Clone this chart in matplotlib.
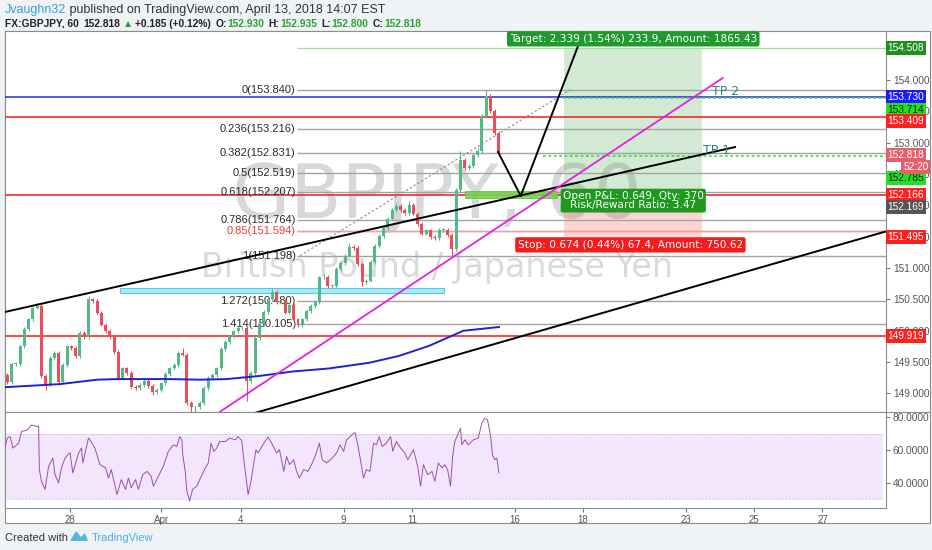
import numpy as np
import matplotlib

matplotlib.use("Agg")
from matplotlib import pyplot as plt
from matplotlib.patches import Rectangle, Polygon
from matplotlib.lines import Line2D

plt.rcParams["font.family"] = ["Liberation Sans", "DejaVu Sans"]

# ---------------- datos ----------------
# eje x en horas de mercado desde el 28 de marzo 00:00 (sin fines de semana)
bar_start = -44
bar_step = 3
first_open = 149.30
closes = [
    149.18, 149.47, 149.47, 149.75, 150.03, 150.18, 150.37, 150.40, 149.28, 149.15,
    149.56, 149.65, 149.19, 149.45, 149.75, 149.72, 149.60, 149.96, 149.90, 150.50,
    150.48, 150.29, 150.10, 150.00, 149.90, 149.66, 149.25, 149.40, 149.33, 149.11,
    149.09, 149.13, 149.20, 149.12, 149.02, 149.05, 149.16, 149.31, 149.40, 149.45,
    149.65, 149.62, 148.85, 148.78, 148.78, 148.85, 149.09, 149.25, 149.30, 149.40,
    149.71, 149.82, 149.91, 149.99, 150.04, 150.05, 149.20, 149.33, 149.88, 150.11,
    150.30, 150.50, 150.62, 150.46, 150.47, 150.29, 150.41, 150.18, 150.09, 150.18,
    150.31, 150.39, 150.46, 150.85, 150.86, 150.72, 150.72, 150.98, 151.08, 151.20,
    151.34, 151.32, 151.06, 150.78, 150.80, 151.10, 151.35, 151.51, 151.64, 151.79,
    151.93, 151.99, 151.93, 151.88, 152.00, 151.87, 151.70, 151.55, 151.60, 151.49,
    151.48, 151.61, 151.61, 151.53, 151.30, 152.25, 152.72, 152.60, 152.63, 152.80,
    152.87, 153.42, 153.74, 153.50, 153.15, 152.818,
]
wick_highs = {7: 150.45, 19: 150.56, 41: 149.72, 55: 150.08, 62: 150.66, 74: 150.90,
              80: 151.40, 91: 152.03, 94: 152.07, 106: 152.86, 110: 152.92, 112: 153.84}
wick_lows = {9: 149.05, 34: 148.98, 43: 148.66, 44: 148.66, 56: 148.88, 83: 150.72,
             104: 151.198}

# media movil (linea azul)
ma_hours = [-46, -7, 19, 33, 70, 91, 110, 133, 156, 182, 210, 231, 252, 276, 301]
ma_values = [149.10, 149.15, 149.22, 149.23, 149.23, 149.22, 149.23, 149.28, 149.35,
             149.40, 149.49, 149.60, 149.76, 150.00, 150.06]

# RSI
rsi_hours = [
    -46, -44, -42, -40, -36, -34, -30, -27, -23, -22,
    -21.5, -20, -17.5, -15, -12, -10.5, -8, -6, -3.5, 0,
    2, 6, 8, 9, 13, 14, 17.5, 21, 25, 27,
    29, 33, 36, 39, 41, 43, 46, 48, 51, 54,
    57, 58.5, 62, 65.5, 69, 72.5, 75, 77, 78.5, 79,
    81, 82, 84, 86, 89, 91, 95, 97, 99, 101,
    103, 105, 109, 112, 116, 118, 120.5, 122, 125, 127,
    129, 130.5, 132, 136, 139, 141.5, 145, 147, 150, 152,
    154, 157, 159, 161, 164, 167, 170, 172, 175, 177,
    180, 184, 187, 189.5, 192, 194, 198, 200, 202, 205,
    206, 208, 210.5, 213, 215, 217, 219, 222, 225, 226.5,
    229, 232, 235, 237, 241, 244, 246, 248, 251, 254,
    256, 258.5, 261, 263, 265, 267, 268.5, 270, 274, 275,
    277, 279.5, 283, 286.5, 289, 291, 293, 295, 296.5, 298,
    299.5, 301,
]
rsi_values = [
    60.2, 67.3, 68.2, 61.2, 64.2, 71.3, 72.3, 75.3, 74.3, 74.7,
    48.1, 41.0, 36.0, 50.1, 55.1, 45.0, 40.0, 49.1, 55.1, 58.5,
    46.1, 58.2, 61.2, 52.1, 67.3, 66.2, 61.2, 51.1, 49.1, 43.0,
    48.1, 32.9, 42.0, 36.0, 43.0, 37.0, 42.0, 36.0, 45.0, 47.0,
    44.0, 38.0, 44.0, 50.1, 59.2, 63.2, 62.2, 68.2, 66.2, 58.2,
    46.1, 35.0, 28.9, 36.0, 38.0, 42.0, 49.1, 52.1, 64.2, 59.2,
    61.2, 65.2, 65.2, 67.3, 66.2, 68.2, 65.8, 54.1, 32.9, 41.0,
    52.1, 60.2, 58.2, 64.2, 67.9, 64.2, 58.2, 60.2, 47.0, 56.1,
    51.1, 54.1, 47.0, 43.0, 48.1, 47.0, 52.1, 56.1, 64.2, 54.1,
    52.1, 55.1, 58.2, 63.2, 59.2, 66.2, 69.3, 70.7, 63.2, 48.1,
    43.0, 48.1, 47.0, 64.2, 63.2, 68.2, 62.2, 64.2, 68.2, 59.2,
    65.2, 61.2, 58.2, 54.1, 60.2, 50.1, 38.0, 51.1, 45.0, 47.0,
    41.0, 52.1, 49.1, 51.1, 48.1, 38.0, 56.1, 65.2, 73.3, 63.2,
    66.2, 63.2, 66.2, 67.3, 76.4, 79.4, 78.4, 69.3, 57.1, 54.1,
    55.1, 46.1,
]

# fibonacci
fib_ratios = ["0", "0.236", "0.382", "0.5", "0.618", "0.786", "0.85", "1", "1.272", "1.414"]
fib_prices = [153.840, 153.216, 152.831, 152.519, 152.207, 151.764, 151.594, 151.198,
              150.480, 150.105]
fib_start = 159

red_levels = [153.409, 152.166, 149.919]
blue_level = 153.730
tp_levels = [153.714, 152.785]
tp_starts = [346, 332]

# posicion larga
pos_start, pos_end = 347, 443.5
entry, target, stop = 152.169, 154.508, 151.495

green_zone = (277, 342, 152.12, 152.23)
cyan_zone = (35, 262.5, 150.61, 150.69)

channel_top = ([-45.6, 466.7], [150.30, 152.93])
channel_low = ([129.8, 571.9], [148.69, 151.58])
magenta_line = ([105.3, 458.0], [148.71, 154.03])
projection = ([300.4, 316.3, 360.0], [152.85, 152.15, 154.75])
fib_trend = ([161.4, 350.9], [151.198, 153.84])

tp_texts = [("TP 2", 450.5, 153.82), ("TP 1", 444.2, 152.88)]

x_ticks = [0, 64, 120, 192, 240, 312, 360, 432, 480, 528]
x_labels = ["28", "Apr", "4", "9", "11", "16", "18", "23", "25", "27"]

# etiquetas del eje de precios: precio, texto, fondo, color texto, desplazamiento px
price_tags = [
    (154.508, "154.508", "#1f8f1f", "white", 0),
    (153.730, "153.730", "#1a1aff", "white", 0),
    (153.714, "153.714", "#22e022", "#1b1b1b", -12),
    (153.409, "153.409", "#ff1f1f", "white", -4),
    (152.818, "152.818", "#e3606c", "white", -1),
    (152.785, "152.785", "#22e022", "#1b1b1b", -22),
    (152.166, "152.166", "#ff1f1f", "white", 0),
    (152.169, "152.169", "#555555", "white", -12),
    (151.495, "151.495", "#ff1f1f", "white", 0),
    (149.919, "149.919", "#ff1f1f", "white", 0),
]

# ---------------- figura ----------------
W, H = 932, 550
fig = plt.figure(figsize=(W / 100, H / 100), dpi=100)
fig.patch.set_facecolor("#f0f3f6")

fig.add_artist(Rectangle((5 / W, 27 / H), 925 / W, 492 / H, transform=fig.transFigure,
                         fc="white", ec="#8c8c8c", lw=0.8, zorder=0))

ax = fig.add_axes([5 / W, 138 / H, 881 / W, 381 / H])
ax2 = fig.add_axes([5 / W, 42 / H, 881 / W, 96 / H], sharex=ax)
fig.add_artist(Line2D([886 / W, 930 / W], [138 / H, 138 / H], color="#8c8c8c", lw=0.8))

xmin, xmax = -45.6, 572.6
ax.set_xlim(xmin, xmax)
ax.set_ylim(148.705, 154.78)
ax2.set_ylim(24.7, 83.2)

for a in (ax, ax2):
    for s in a.spines.values():
        s.set_color("#8c8c8c")
        s.set_linewidth(0.8)
    a.yaxis.tick_right()
    a.tick_params(axis="y", length=3, color="#777777", labelsize=7.3, labelcolor="#555555", pad=2)

ax.tick_params(axis="x", bottom=False, labelbottom=False)
ax.set_yticks(np.arange(149.0, 154.01, 0.5))
ax.set_yticklabels(["%.3f" % v for v in np.arange(149.0, 154.01, 0.5)])
ax2.set_yticks([40, 60, 80])
ax2.set_yticklabels(["40.0000", "60.0000", "80.0000"])
ax2.set_xticks(x_ticks)
ax2.set_xticklabels(x_labels)
ax2.tick_params(axis="x", length=3, color="#777777", labelsize=7, labelcolor="#555555", pad=2)

# marca de agua
ax.text(0.49, 0.562, "GBPJPY, 60", transform=ax.transAxes, ha="center", va="center",
        fontsize=54, color="#d8d8d8", family="DejaVu Sans", zorder=0)
ax.text(0.49, 0.378, "British Pound / Japanese Yen", transform=ax.transAxes, ha="center",
        va="center", fontsize=24, color="#dadada", family="DejaVu Sans", zorder=0)

# zonas
ax.add_patch(Rectangle((cyan_zone[0], cyan_zone[2]), cyan_zone[1] - cyan_zone[0],
                       cyan_zone[3] - cyan_zone[2], fc="#a8ecfa", ec="#59c9ea", lw=0.8, zorder=2))
ax.add_patch(Rectangle((pos_start, entry), pos_end - pos_start, target - entry,
                       fc="#4caf50", alpha=0.25, lw=0, zorder=1))
ax.add_patch(Rectangle((pos_start, stop), pos_end - pos_start, entry - stop,
                       fc="#f44336", alpha=0.22, lw=0, zorder=1))

# niveles horizontales
ax.hlines(fib_prices, fib_start, xmax, color="#a3a3a3", lw=1.0, zorder=2)
ax.hlines([fib_prices[6]], fib_start, xmax, color="#f5a0a0", lw=1.0, zorder=2)
ax.hlines([target], fib_start, xmax, color="#9be09b", lw=0.9, zorder=2)
for lev in red_levels:
    ax.axhline(lev, color="#f22c2c", lw=1.2, zorder=3)
ax.axhline(blue_level, color="#2727ee", lw=1.1, zorder=3)
for lev, st in zip(tp_levels, tp_starts):
    ax.hlines([lev], st, xmax, color="#3ddc3d", lw=1.1, linestyles=(0, (2, 1.5)), zorder=3)

for ratio, price in zip(fib_ratios, fib_prices):
    col = "#f23b3b" if ratio == "0.85" else "#2a2a2a"
    ax.text(fib_start - 0.5, price, "%s(%.3f)" % (ratio, price), ha="right", va="center",
            fontsize=8, color=col, zorder=4)

ax.add_patch(Rectangle((green_zone[0], green_zone[2]), green_zone[1] - green_zone[0],
                       green_zone[3] - green_zone[2], fc="#74d44a", ec="#5cc03a", lw=0.6,
                       alpha=0.9, zorder=4))

# velas
n = len(closes)
hours = bar_start + bar_step * np.arange(n)
closes_a = np.array(closes)
opens = np.r_[first_open, closes_a[:-1]]
highs = np.maximum(opens, closes_a) + 0.03
lows = np.minimum(opens, closes_a) - 0.03
for i, v in wick_highs.items():
    highs[i] = v
for i, v in wick_lows.items():
    lows[i] = v
colors = np.where(closes_a >= opens, "#53b987", "#eb4d5c")
ax.vlines(hours, lows, highs, colors=colors, lw=0.8, zorder=5)
body = np.maximum(np.abs(closes_a - opens), 0.012)
ax.bar(hours, body, bottom=np.minimum(opens, closes_a), width=2.1, color=colors, zorder=5)

ax.plot(ma_hours, ma_values, color="#1f1fd6", lw=1.4, zorder=5)

# lineas de tendencia
ax.plot(*fib_trend, color="#8a8a8a", lw=0.8, ls=(0, (2, 2)), zorder=4)
ax.plot(*channel_top, color="black", lw=1.4, zorder=6)
ax.plot(*channel_low, color="black", lw=1.4, zorder=6)
ax.plot(*magenta_line, color="#e51fe5", lw=1.3, zorder=6)
ax.plot(*projection, color="black", lw=1.4, zorder=6)

for txt, hx, py in tp_texts:
    ax.text(hx, py, txt, fontsize=9, color="#2f8088", ha="left", va="center",
            family="DejaVu Sans", zorder=7)

# etiquetas de la posicion
mid = (pos_start + pos_end) / 2
lab = dict(ha="center", va="center", color="white", fontsize=7.6, family="DejaVu Sans", zorder=9)
ax.text(mid, 154.655, "Target: 2.339 (1.54%) 233.9, Amount: 1865.43",
        bbox=dict(boxstyle="round,pad=0.25,rounding_size=0.2", fc="#1f9a2c", ec="none"), **lab)
ax.text(mid, 152.075, "Open P&L: 0.649, Qty: 370\nRisk/Reward Ratio: 3.47", linespacing=0.95,
        bbox=dict(boxstyle="round,pad=0.2,rounding_size=0.2", fc="#1f9a1f", ec="none"), **lab)
ax.text(mid - 2, 151.37, "Stop: 0.674 (0.44%) 67.4, Amount: 750.62",
        bbox=dict(boxstyle="round,pad=0.25,rounding_size=0.2", fc="#f21d1d", ec="none"), **lab)

# etiquetas en el eje de precios
for price, txt, fc, tc, dy in price_tags:
    ax.annotate(txt, xy=(1, price), xycoords=("axes fraction", "data"), xytext=(1.2, dy * 0.72),
                textcoords="offset points", ha="left", va="center", fontsize=7.3, color=tc,
                annotation_clip=False, zorder=10,
                bbox=dict(boxstyle="square,pad=0.18", fc=fc, ec="none"))
ax.annotate("52:20", xy=(1, 152.818), xycoords=("axes fraction", "data"), xytext=(30.5, -13 * 0.72),
            textcoords="offset points", ha="right", va="center", fontsize=7.3, color="white",
            annotation_clip=False, zorder=10,
            bbox=dict(boxstyle="square,pad=0.18", fc="#e3606c", ec="none"))

# RSI
ax2.axhspan(30, 70, xmax=0.997, color="#f3e6fc", lw=0, zorder=0)
ax2.axhline(70, xmax=0.997, color="#cdbbd8", lw=0.6, ls=(0, (2, 2)))
ax2.axhline(30, xmax=0.997, color="#cdbbd8", lw=0.6, ls=(0, (2, 2)))
ax2.plot(rsi_hours, rsi_values, color="#9b4fb0", lw=0.7, zorder=3)

# cabecera
hdr = fig.add_axes([0, 0, 1, 1], zorder=-1)
hdr.axis("off")
hdr.set_xlim(0, 1)
hdr.set_ylim(0, 1)
fam = ["Liberation Sans", "DejaVu Sans"]
t = hdr.text(5 / W, 1 - 13 / H, "Jvaughn32", fontsize=9, color="#3a9fd8", family=fam, va="baseline")
hdr.annotate(" published on TradingView.com, April 13, 2018 14:07 EST", xy=(1, 0), xycoords=t,
             fontsize=9, color="#333333", family=fam, va="bottom")

pieces = [("FX:GBPJPY, 60", "#222222", 0), ("152.818", "#222222", 3), ("\u25b2", "#2a9d2a", 2),
          ("+0.185 (+0.12%)", "#222222", 2), ("O:", "#222222", 3), ("152.930", "#2fa12f", 0.5),
          ("H:", "#222222", 3), ("152.935", "#2fa12f", 0.5), ("L:", "#222222", 3),
          ("152.800", "#2fa12f", 0.5), ("C:", "#222222", 3), ("152.818", "#2fa12f", 0.5)]
prev = None
for txt, col, gap in pieces:
    if prev is None:
        prev = hdr.text(5 / W, 1 - 27 / H, txt, fontsize=7.4, color=col, family=fam,
                        weight="bold", va="baseline")
    else:
        prev = hdr.annotate(txt, xy=(1, 0), xycoords=prev, xytext=(gap, 0),
                            textcoords="offset points", fontsize=7.4, color=col, family=fam,
                            weight="bold", va="bottom")

# pie
c = hdr.text(5 / W, 1 - 541 / H, "Created with", fontsize=8, color="#333333", family=fam)
logo_x, logo_y = 70 / W, 1 - 541 / H
hdr.add_patch(Polygon([(logo_x, logo_y), (logo_x + 6 / W, logo_y + 10 / H),
                       (logo_x + 11 / W, logo_y + 4 / H), (logo_x + 15 / W, logo_y + 8 / H),
                       (logo_x + 18 / W, logo_y)], closed=True, fc="#5ab4e0", ec="none"))
hdr.text(92 / W, 1 - 541 / H, "TradingView", fontsize=8, color="#4aaee0", family=fam)

fig.savefig("out.png", dpi=100, facecolor=fig.get_facecolor())
